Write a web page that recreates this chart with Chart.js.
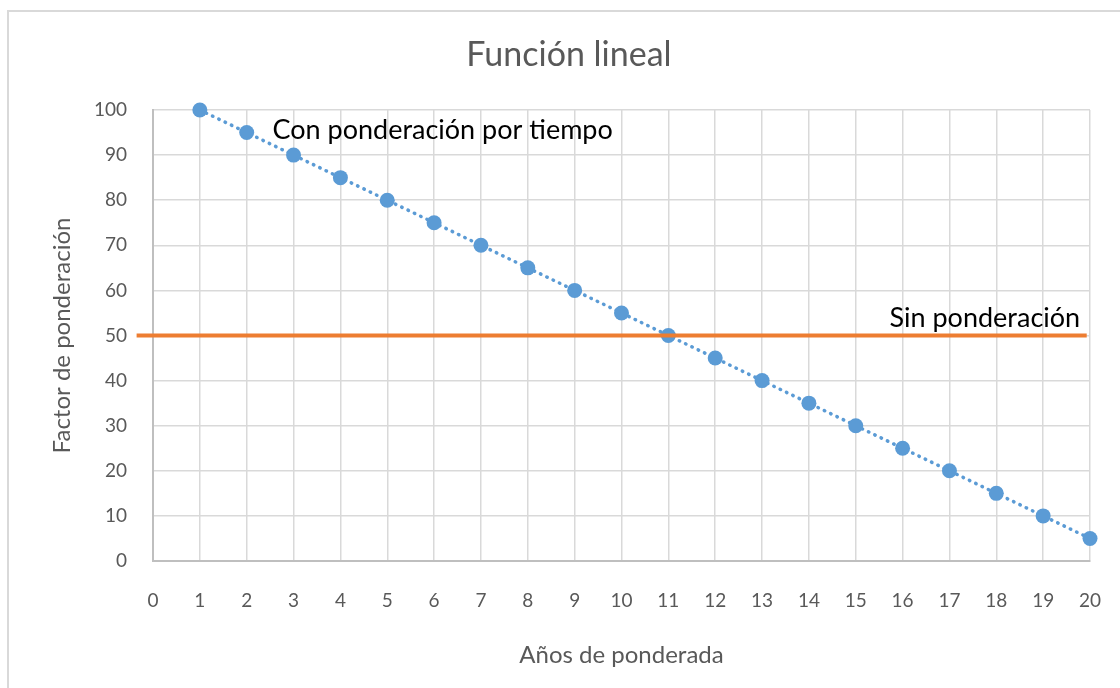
<!DOCTYPE html>
<html>
<head>
<meta charset="utf-8">
<script src="https://cdn.jsdelivr.net/npm/chart.js@4/dist/chart.umd.min.js"></script>
<style>
  html, body { margin: 0; padding: 0; background: #fff; overflow: hidden; }
  #wrap { position: relative; width: 1120px; height: 688px; }
  #frame { position: absolute; left: 7px; top: 10px; width: 1200px; height: 800px;
           border: 2px solid #d9d9d9; box-sizing: border-box; }
  #chart { position: absolute; left: 0; top: 0; }
</style>
</head>
<body>
<div id="wrap">
  <div id="frame"></div>
  <canvas id="chart" width="1120" height="688"></canvas>
</div>
<script>
/* ---------- datos ---------- */
const anios = [1, 2, 3, 4, 5, 6, 7, 8, 9, 10, 11, 12, 13, 14, 15, 16, 17, 18, 19, 20];
const factorTiempo = [100, 95, 90, 85, 80, 75, 70, 65, 60, 55, 50, 45, 40, 35, 30, 25, 20, 15, 10, 5];
const sinPondX = [-0.35, 19.93];
const sinPondY = [50, 50];

const tituloGrafico = "Función lineal";
const tituloX = "Años de ponderada";
const tituloY = "Factor de ponderación";
const etiquetaCon = "Con ponderación por tiempo";
const etiquetaSin = "Sin ponderación";

const FONT = "Lato, 'Open Sans', sans-serif";
const GRIS = "#595959";

/* ---------- titulo y etiquetas de texto ---------- */
const etiquetas = {
  id: "etiquetas",
  afterDatasetsDraw(chart){
    const {ctx, scales:{x, y}} = chart;
    ctx.save();
    ctx.textBaseline = "middle";

    // titulo (el marco del grafico empieza en x=7, por eso va algo a la derecha)
    ctx.fillStyle = GRIS;
    ctx.font = "34px " + FONT;
    ctx.textAlign = "center";
    ctx.fillText(tituloGrafico, 569, 55);

    ctx.fillStyle = "#000";
    ctx.font = "27px " + FONT;
    ctx.textAlign = "left";
    ctx.fillText(etiquetaCon, x.getPixelForValue(2.55), y.getPixelForValue(95.6));
    ctx.fillText(etiquetaSin, x.getPixelForValue(15.72), y.getPixelForValue(53.9));
    ctx.restore();
  }
};

const puntos1 = anios.map((a, i) => ({x: a, y: factorTiempo[i]}));
const puntos2 = sinPondX.map((a, i) => ({x: a, y: sinPondY[i]}));

new Chart(document.getElementById("chart"), {
  type: "scatter",
  data: {
    datasets: [
      {
        label: "Sin ponderación",
        data: puntos2,
        showLine: true,
        borderColor: "#ed7d31",
        borderWidth: 4,
        pointRadius: 0,
        clip: false
      },
      {
        label: "Con ponderación por tiempo",
        data: puntos1,
        showLine: true,
        borderColor: "#5b9bd5",
        borderWidth: 3.5,
        borderDash: [0.5, 6.5],
        borderCapStyle: "round",
        backgroundColor: "#5b9bd5",
        pointBackgroundColor: "#5b9bd5",
        pointBorderColor: "#5b9bd5",
        pointRadius: 7.5,
        pointBorderWidth: 0,
        clip: false
      }
    ]
  },
  options: {
    responsive: false,
    animation: false,
    layout: { padding: { left: 0, right: 30, top: 110, bottom: 0 } },
    plugins: {
      legend: { display: false },
      tooltip: { enabled: false },
      title: { display: false }
    },
    scales: {
      x: {
        type: "linear",
        min: 0, max: 20,
        ticks: { stepSize: 1, color: GRIS, font: { family: FONT, size: 19 }, padding: 28 },
        grid: { color: "#d9d9d9", lineWidth: 1.5, drawTicks: false },
        border: { color: "#bfbfbf", width: 2 },
        title: { display: true, text: tituloX, color: GRIS,
                 font: { family: FONT, size: 24 }, padding: { top: 0, bottom: 18.6 } },
        afterFit(s){ s.height = 127; s.paddingLeft = 0; s.paddingRight = 0; }
      },
      y: {
        min: 0, max: 100,
        ticks: { stepSize: 10, color: GRIS, font: { family: FONT, size: 19 }, padding: 26 },
        grid: { color: "#d9d9d9", lineWidth: 1.5, drawTicks: false },
        border: { color: "#bfbfbf", width: 2 },
        title: { display: true, text: tituloY, color: GRIS,
                 font: { family: FONT, size: 24 }, padding: { top: 47.6, bottom: 0 } },
        afterFit(s){ s.width = 153; s.paddingTop = 0; s.paddingBottom = 0; }
      }
    }
  },
  plugins: [etiquetas]
});
</script>
</body>
</html>
